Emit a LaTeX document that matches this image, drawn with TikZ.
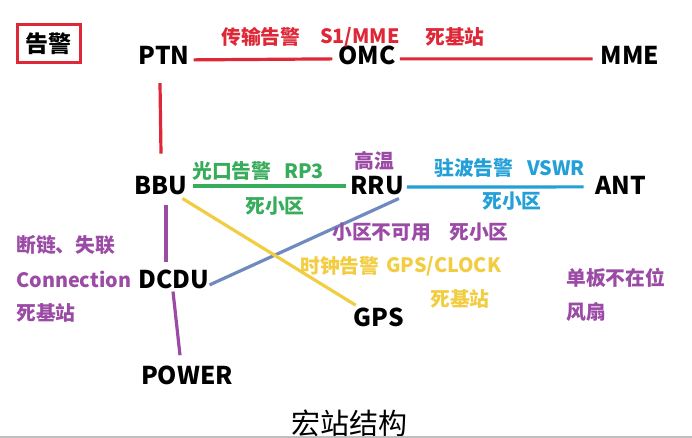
\documentclass[tikz,border=0pt]{standalone}
\usepackage{fontspec}
\setmainfont{Noto Sans CJK SC}
\definecolor{cred}{RGB}{222,40,55}
\definecolor{cgreen}{RGB}{55,172,90}
\definecolor{cblue}{RGB}{35,160,215}
\definecolor{cpurple}{RGB}{155,75,165}
\definecolor{cyellow}{RGB}{242,205,65}
\definecolor{cgrayblue}{RGB}{110,138,190}
\begin{document}
\begin{tikzpicture}[x=1pt,y=-1pt,
  dev/.style={inner sep=0pt,anchor=base,font=\fontsize{24.5}{25}\selectfont\bfseries},
  lbl/.style={inner sep=0pt,anchor=west,font=\fontsize{19.8}{20}\selectfont\bfseries},
  wire/.style={line width=3.2pt}]
\useasboundingbox (0,0) rectangle (692,438);
\fill[white] (0,0) rectangle (692,438);
% title box
\node[draw=cred,line width=3pt,minimum width=63pt,minimum height=38pt,inner sep=0pt,
  font=\fontsize{23}{23}\selectfont\bfseries] (alarm) at (48.5,44) {告警};
% devices
\node[dev] (ptn) at (164,65) {PTN};
\node[dev] (omc) at (367,65) {OMC};
\node[dev] (mme) at (630,65) {MME};
\node[dev] (bbu) at (161,194) {BBU};
\node[dev] (rru) at (377,194) {RRU};
\node[dev] (ant) at (621,194) {ANT};
\node[dev] (dcdu) at (174,288) {DCDU};
\node[dev] (gps) at (379,326) {GPS};
\node[dev] (power) at (187,384) {POWER};
% red
\draw[wire,cred] ([xshift=4pt,yshift=-4pt]ptn.east) -- ([xshift=-6pt,yshift=-3pt]omc.west);
\draw[wire,cred] ([xshift=4pt,yshift=-3pt]omc.east) -- ([xshift=-8pt,yshift=-3pt]mme.west);
\draw[wire,cred] ([xshift=-4pt,yshift=-18pt]ptn.south) -- ([xshift=0pt,yshift=22pt]bbu.north);
% green
\draw[wire,cgreen] ([xshift=5pt,yshift=-1pt]bbu.east) -- ([xshift=-4pt,yshift=-1pt]rru.west);
% blue
\draw[wire,cblue] ([xshift=3pt,yshift=-2pt]rru.east) -- ([xshift=-12pt,yshift=-2pt]ant.west);
% purple
\draw[wire,cpurple] ([xshift=5pt,yshift=-10pt]bbu.south) -- ([xshift=-8pt,yshift=7pt]dcdu.north);
\draw[wire,cpurple] ([xshift=-1pt,yshift=-3pt]dcdu.south) -- ([xshift=-7pt,yshift=10pt]power.north);
% gray-blue
\draw[wire,cgrayblue] ([xshift=0pt,yshift=-6pt]dcdu.east) -- ([xshift=-5pt,yshift=-4pt]rru.south east);
% yellow
\draw[wire,cyellow] ([xshift=-5pt,yshift=-4pt]bbu.south east) -- ([xshift=2pt,yshift=2pt]gps.north west);
% labels red
\node[lbl,text=cred] (l1) at (221,37) {传输告警};
\node[lbl,text=cred] (l2) at (320,37) {S1/MME};
\node[lbl,text=cred] (l3) at (425,37) {死基站};
% green
\node[lbl,text=cgreen] (g1) at (192,171) {光口告警};
\node[lbl,text=cgreen] (g2) at (284,171) {RP3};
\node[lbl,text=cgreen] (g3) at (245,206) {死小区};
% purple RRU
\node[lbl,text=cpurple] (p1) at (354,161) {高温};
% blue
\node[lbl,text=cblue] (b1) at (434,168) {驻波告警};
\node[lbl,text=cblue] (b2) at (527,168) {VSWR};
\node[lbl,text=cblue] (b3) at (482,201) {死小区};
% purple mid
\node[lbl,text=cpurple] (p2) at (332,232) {小区不可用};
\node[lbl,text=cpurple] (p3) at (449,232) {死小区};
% yellow
\node[lbl,text=cyellow] (y1) at (300,266) {时钟告警};
\node[lbl,text=cyellow] (y2) at (386,266) {GPS/CLOCK};
\node[lbl,text=cyellow] (y3) at (430,299) {死基站};
% left purple
\node[lbl,text=cpurple] (p4) at (16,245) {断链、失联};
\node[lbl,text=cpurple] (p5) at (16,279) {Connection};
\node[lbl,text=cpurple] (p6) at (16,313) {死基站};
% right purple
\node[lbl,text=cpurple] (p7) at (566,278) {单板不在位};
\node[lbl,text=cpurple] (p8) at (566,312) {风扇};
% title
\node[inner sep=0pt,anchor=west,font=\fontsize{29}{29}\selectfont] (title) at (291,423) {宏站结构};
% bottom border
\draw[line width=1.5pt,black!25] (0,437) -- (692,437);
\end{tikzpicture}
\end{document}
